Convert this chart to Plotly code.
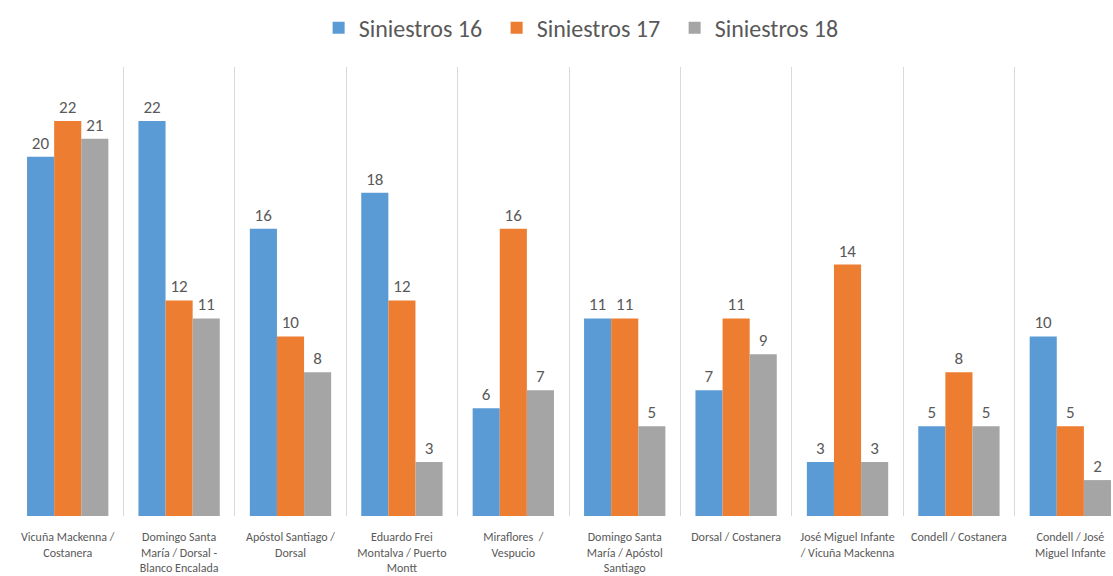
import plotly.graph_objects as go

categories = [
    "Vicuña Mackenna /<br>Costanera",
    "Domingo Santa<br>María / Dorsal -<br>Blanco Encalada",
    "Apóstol Santiago /<br>Dorsal",
    "Eduardo Frei<br>Montalva / Puerto<br>Montt",
    "Miraflores  /<br>Vespucio",
    "Domingo Santa<br>María / Apóstol<br>Santiago",
    "Dorsal / Costanera",
    "José Miguel Infante<br>/ Vicuña Mackenna",
    "Condell / Costanera",
    "Condell / José<br>Miguel Infante",
]
siniestros_16 = [20, 22, 16, 18, 6, 11, 7, 3, 5, 10]
siniestros_17 = [22, 12, 10, 12, 16, 11, 11, 14, 8, 5]
siniestros_18 = [21, 11, 8, 3, 7, 5, 9, 3, 5, 2]

series = [
    ("Siniestros 16", siniestros_16, "#5B9BD5"),
    ("Siniestros 17", siniestros_17, "#ED7D31"),
    ("Siniestros 18", siniestros_18, "#A5A5A5"),
]

FONT = "Carlito, Lato, 'Open Sans', sans-serif"
TEXT_GREY = "#595959"

fig = go.Figure()
for name, vals, color in series:
    fig.add_trace(go.Bar(
        name=name,
        x=categories,
        y=vals,
        marker=dict(color=color, line=dict(width=0)),
        text=[str(v) for v in vals],
        textposition="outside",
        cliponaxis=False,
        textfont=dict(family=FONT, size=17, color=TEXT_GREY),
    ))

fig.update_layout(
    width=1113,
    height=576,
    margin=dict(l=12, r=0, t=67, b=60),
    paper_bgcolor="white",
    plot_bgcolor="white",
    barmode="group",
    bargap=0.27,
    bargroupgap=0,
    font=dict(family=FONT, color=TEXT_GREY),
    legend=dict(
        orientation="h",
        x=0.2785, xanchor="left",
        y=0.99, yanchor="top",
        yref="container",
        font=dict(family=FONT, size=24, color=TEXT_GREY),
        itemwidth=30,
        entrywidth=133,
        entrywidthmode="pixels",
        traceorder="normal",
    ),
    xaxis=dict(
        type="category",
        categoryorder="array",
        categoryarray=categories,
        tickson="boundaries",
        showgrid=True,
        gridcolor="#D9D9D9",
        gridwidth=1,
        range=[-0.5, 9.383],
        ticks="",
        ticklabelstandoff=12,
        showline=False,
        zeroline=False,
        tickfont=dict(family=FONT, size=12, color=TEXT_GREY),
        tickangle=0,
    ),
    yaxis=dict(
        range=[0, 25],
        visible=False,
        showgrid=False,
        zeroline=False,
    ),
)

fig.write_html("out.html")
